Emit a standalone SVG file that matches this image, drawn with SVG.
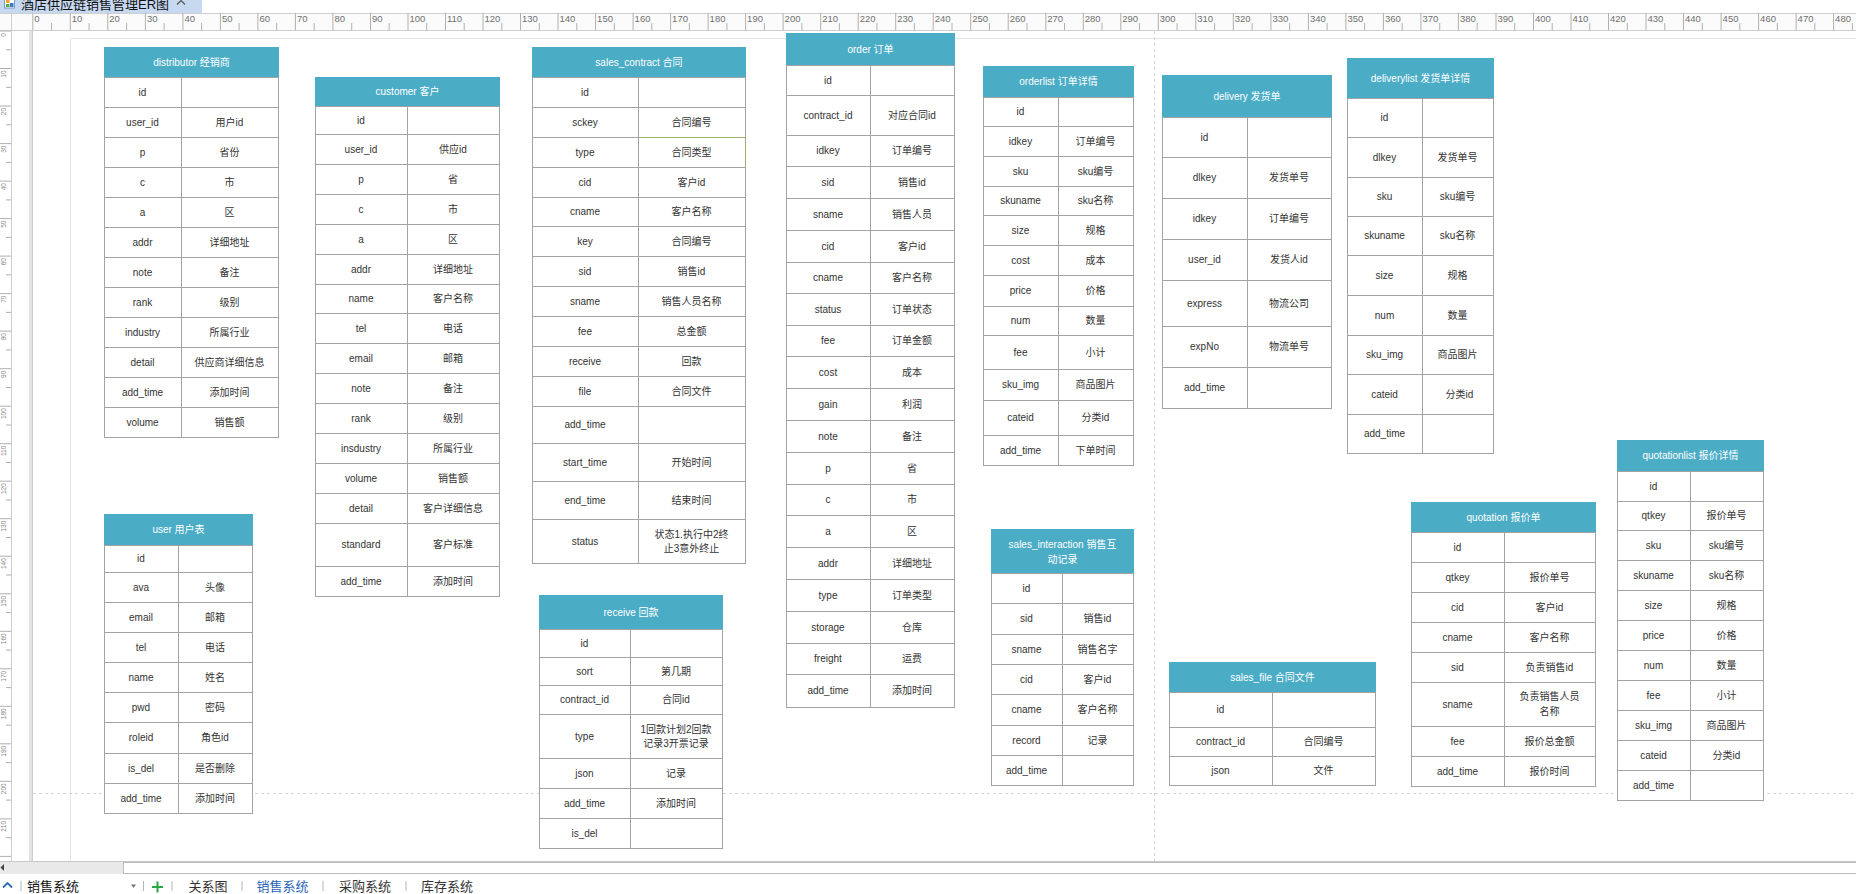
<svg xmlns="http://www.w3.org/2000/svg" width="1856" height="894" viewBox="0 0 1856 894">
<style>
text{font-family:"Liberation Sans","Noto Sans CJK SC",sans-serif}
.t{font-size:10px;fill:#333;text-anchor:middle}
.ht{font-size:10px;fill:#fff;text-anchor:middle}
.hd{fill:#4bacc6}
.bd{fill:#fff;stroke:#a3a3a3;stroke-width:1}
.ln{fill:none;stroke:#a3a3a3;stroke-width:1}
.rl{font-size:9.5px;fill:#707070}
.vl{font-size:6.5px;fill:#888;text-anchor:end}
.tk{fill:none;stroke:#b0b0b0;stroke-width:1}
.tab{font-size:13px;fill:#333}
.sep{stroke:#b5b5b5;stroke-width:1}
.pg{fill:none;stroke:#e4e4e4;stroke-width:1}
.dash{fill:none;stroke:#d4d4d4;stroke-width:1;stroke-dasharray:3 3}
</style>
<rect x="0" y="0" width="1856" height="894" fill="#fff"/>
<g id="chrome">
<rect x="0" y="0" width="202" height="13" fill="#c7d9f1"/>
<rect x="4.5" y="-1" width="10" height="9" fill="#fff" stroke="#7d9cc4"/>
<rect x="6" y="0" width="3.5" height="3" fill="#f0a22e"/>
<rect x="10" y="3" width="3.5" height="4" fill="#3a78c8"/>
<rect x="6" y="4" width="3.5" height="3" fill="#4caf50"/>
<text x="21" y="8.5" style="font-size:13px;fill:#111">酒店供应链销售管理ER图</text>
<polyline points="177,4.5 181,0.5 185,4.5" fill="none" stroke="#555" stroke-width="1.2"/>
<rect x="0" y="13" width="1856" height="17" fill="#fbfbfb"/>
<path d="M0 13.5H1856M0 30.5H1856" stroke="#cfcfcf"/>
<path class="tk" d="M32.8 13V30M70.3 13V30M107.8 13V30M145.4 13V30M182.9 13V30M220.4 13V30M257.9 13V30M295.4 13V30M332.9 13V30M370.5 13V30M408 13V30M445.5 13V30M483 13V30M520.5 13V30M558 13V30M595.6 13V30M633.1 13V30M670.6 13V30M708.1 13V30M745.6 13V30M783.1 13V30M820.7 13V30M858.2 13V30M895.7 13V30M933.2 13V30M970.7 13V30M1008.2 13V30M1045.8 13V30M1083.3 13V30M1120.8 13V30M1158.3 13V30M1195.8 13V30M1233.3 13V30M1270.9 13V30M1308.4 13V30M1345.9 13V30M1383.4 13V30M1420.9 13V30M1458.4 13V30M1496 13V30M1533.5 13V30M1571 13V30M1608.5 13V30M1646 13V30M1683.5 13V30M1721.1 13V30M1758.6 13V30M1796.1 13V30M1833.6 13V30"/>
<path class="tk" d="M51.6 23V30M89.1 23V30M126.6 23V30M164.1 23V30M201.6 23V30M239.1 23V30M276.7 23V30M314.2 23V30M351.7 23V30M389.2 23V30M426.7 23V30M464.2 23V30M501.8 23V30M539.3 23V30M576.8 23V30M614.3 23V30M651.8 23V30M689.3 23V30M726.9 23V30M764.4 23V30M801.9 23V30M839.4 23V30M876.9 23V30M914.4 23V30M952 23V30M989.5 23V30M1027 23V30M1064.5 23V30M1102 23V30M1139.5 23V30M1177.1 23V30M1214.6 23V30M1252.1 23V30M1289.6 23V30M1327.1 23V30M1364.6 23V30M1402.2 23V30M1439.7 23V30M1477.2 23V30M1514.7 23V30M1552.2 23V30M1589.7 23V30M1627.3 23V30M1664.8 23V30M1702.3 23V30M1739.8 23V30M1777.3 23V30M1814.8 23V30M1852.4 23V30"/>
<g class="rl">
<text x="34.3" y="22">0</text><text x="71.8" y="22">10</text><text x="109.3" y="22">20</text><text x="146.9" y="22">30</text><text x="184.4" y="22">40</text><text x="221.9" y="22">50</text><text x="259.4" y="22">60</text><text x="296.9" y="22">70</text><text x="334.4" y="22">80</text><text x="372" y="22">90</text><text x="409.5" y="22">100</text><text x="447" y="22">110</text><text x="484.5" y="22">120</text><text x="522" y="22">130</text><text x="559.5" y="22">140</text><text x="597.1" y="22">150</text><text x="634.6" y="22">160</text><text x="672.1" y="22">170</text><text x="709.6" y="22">180</text><text x="747.1" y="22">190</text><text x="784.6" y="22">200</text><text x="822.2" y="22">210</text><text x="859.7" y="22">220</text><text x="897.2" y="22">230</text><text x="934.7" y="22">240</text><text x="972.2" y="22">250</text><text x="1009.7" y="22">260</text><text x="1047.3" y="22">270</text><text x="1084.8" y="22">280</text><text x="1122.3" y="22">290</text><text x="1159.8" y="22">300</text><text x="1197.3" y="22">310</text><text x="1234.8" y="22">320</text><text x="1272.4" y="22">330</text><text x="1309.9" y="22">340</text><text x="1347.4" y="22">350</text><text x="1384.9" y="22">360</text><text x="1422.4" y="22">370</text><text x="1459.9" y="22">380</text><text x="1497.5" y="22">390</text><text x="1535" y="22">400</text><text x="1572.5" y="22">410</text><text x="1610" y="22">420</text><text x="1647.5" y="22">430</text><text x="1685" y="22">440</text><text x="1722.6" y="22">450</text><text x="1760.1" y="22">460</text><text x="1797.6" y="22">470</text><text x="1835.1" y="22">480</text>
</g>
<rect x="0" y="31" width="11.5" height="830" fill="#fff"/>
<path d="M11.5 13V861" stroke="#cfcfcf"/>
<path class="tk" d="M0 31H11M0 68.5H11M0 106H11M0 143.6H11M0 181.1H11M0 218.6H11M0 256.1H11M0 293.6H11M0 331.1H11M0 368.7H11M0 406.2H11M0 443.7H11M0 481.2H11M0 518.7H11M0 556.2H11M0 593.8H11M0 631.3H11M0 668.8H11M0 706.3H11M0 743.8H11M0 781.3H11M0 818.9H11M0 856.4H11M6 49.8H11M6 87.3H11M6 124.8H11M6 162.4H11M6 199.9H11M6 237.4H11M6 274.9H11M6 312.4H11M6 349.9H11M6 387.5H11M6 425H11M6 462.5H11M6 500H11M6 537.5H11M6 575H11M6 612.6H11M6 650.1H11M6 687.6H11M6 725.1H11M6 762.6H11M6 800.1H11M6 837.7H11"/>
<g class="vl">
<text transform="translate(6 33) rotate(-90)">0</text><text transform="translate(6 70.5) rotate(-90)">10</text><text transform="translate(6 108) rotate(-90)">20</text><text transform="translate(6 145.6) rotate(-90)">30</text><text transform="translate(6 183.1) rotate(-90)">40</text><text transform="translate(6 220.6) rotate(-90)">50</text><text transform="translate(6 258.1) rotate(-90)">60</text><text transform="translate(6 295.6) rotate(-90)">70</text><text transform="translate(6 333.1) rotate(-90)">80</text><text transform="translate(6 370.7) rotate(-90)">90</text><text transform="translate(6 408.2) rotate(-90)">100</text><text transform="translate(6 445.7) rotate(-90)">110</text><text transform="translate(6 483.2) rotate(-90)">120</text><text transform="translate(6 520.7) rotate(-90)">130</text><text transform="translate(6 558.2) rotate(-90)">140</text><text transform="translate(6 595.8) rotate(-90)">150</text><text transform="translate(6 633.3) rotate(-90)">160</text><text transform="translate(6 670.8) rotate(-90)">170</text><text transform="translate(6 708.3) rotate(-90)">180</text><text transform="translate(6 745.8) rotate(-90)">190</text><text transform="translate(6 783.3) rotate(-90)">200</text><text transform="translate(6 820.9) rotate(-90)">210</text>
</g>
<rect x="29" y="31" width="4" height="830" fill="#e3e3e3"/>
<path d="M32.5 31V861" stroke="#cdcdcd"/>
<path class="pg" d="M71 38.5H1856M70.5 38.5V861"/>
<path class="dash" d="M1154.5 31V861M33 793.5H1856"/>
<rect x="0" y="861" width="1856" height="13" fill="#e9e9e9"/>
<path d="M0 861.5H1856" stroke="#c8c8c8"/>
<rect x="123.5" y="862.5" width="1733" height="11" fill="#fff" stroke="#bdbdbd"/>
<polygon points="0.5,867.5 4,864 4,871" fill="#444"/>
<rect x="0" y="874" width="1856" height="20" fill="#fff"/>
<polyline points="3,887.5 7.5,883 12,887.5" fill="none" stroke="#2d6db5" stroke-width="1.8"/>
<path class="sep" d="M21 881V891M143.5 881V891M172 881V891M242 881V891M323 881V891M406 881V891"/>
<text class="tab" x="27" y="890.5" style="fill:#111">销售系统</text>
<polygon points="131,884.5 136,884.5 133.5,888" fill="#777"/>
<path d="M157.5 881.5V892.5M152 887H163" stroke="#2aa845" stroke-width="2"/>
<text class="tab" x="188.5" y="890.5">关系图</text>
<text class="tab" x="256.5" y="890.5" style="fill:#2a64b8">销售系统</text>
<text class="tab" x="339" y="890.5">采购系统</text>
<text class="tab" x="421" y="890.5">库存系统</text>
</g>
<g id="connectors"></g>
<g id="distributor">
<rect class="hd" x="104" y="47" width="175" height="31"/>
<text class="ht" x="191.5" y="65.5">distributor 经销商</text>
<rect class="bd" x="104.5" y="77.5" width="174" height="360"/>
<path class="ln" d="M104.5 107.5H278.5M104.5 137.5H278.5M104.5 167.5H278.5M104.5 197.5H278.5M104.5 227.5H278.5M104.5 257.5H278.5M104.5 287.5H278.5M104.5 317.5H278.5M104.5 347.5H278.5M104.5 377.5H278.5M104.5 407.5H278.5M181.5 77.5V437.5"/>
<g class="t">
<text x="142.5" y="95.5">id</text>
<text x="142.5" y="125.5">user_id</text><text x="229.5" y="125.5">用户id</text>
<text x="142.5" y="155.5">p</text><text x="229.5" y="155.5">省份</text>
<text x="142.5" y="185.5">c</text><text x="229.5" y="185.5">市</text>
<text x="142.5" y="215.5">a</text><text x="229.5" y="215.5">区</text>
<text x="142.5" y="245.5">addr</text><text x="229.5" y="245.5">详细地址</text>
<text x="142.5" y="275.5">note</text><text x="229.5" y="275.5">备注</text>
<text x="142.5" y="305.5">rank</text><text x="229.5" y="305.5">级别</text>
<text x="142.5" y="335.5">industry</text><text x="229.5" y="335.5">所属行业</text>
<text x="142.5" y="365.5">detail</text><text x="229.5" y="365.5">供应商详细信息</text>
<text x="142.5" y="395.5">add_time</text><text x="229.5" y="395.5">添加时间</text>
<text x="142.5" y="425.5">volume</text><text x="229.5" y="425.5">销售额</text>
</g>
</g>
<g id="customer">
<rect class="hd" x="315" y="77" width="185" height="30"/>
<text class="ht" x="407.5" y="95">customer 客户</text>
<rect class="bd" x="315.5" y="106.5" width="184" height="490"/>
<path class="ln" d="M315.5 134.5H499.5M315.5 164.5H499.5M315.5 194.5H499.5M315.5 224.5H499.5M315.5 254.5H499.5M315.5 284.5H499.5M315.5 313.5H499.5M315.5 343.5H499.5M315.5 373.5H499.5M315.5 403.5H499.5M315.5 433.5H499.5M315.5 463.5H499.5M315.5 493.5H499.5M315.5 523.5H499.5M315.5 566.5H499.5M407.5 106.5V596.5"/>
<g class="t">
<text x="361" y="123.5">id</text>
<text x="361" y="152.5">user_id</text><text x="453" y="152.5">供应id</text>
<text x="361" y="182.5">p</text><text x="453" y="182.5">省</text>
<text x="361" y="212.5">c</text><text x="453" y="212.5">市</text>
<text x="361" y="242.5">a</text><text x="453" y="242.5">区</text>
<text x="361" y="272.5">addr</text><text x="453" y="272.5">详细地址</text>
<text x="361" y="302">name</text><text x="453" y="302">客户名称</text>
<text x="361" y="331.5">tel</text><text x="453" y="331.5">电话</text>
<text x="361" y="361.5">email</text><text x="453" y="361.5">邮箱</text>
<text x="361" y="391.5">note</text><text x="453" y="391.5">备注</text>
<text x="361" y="421.5">rank</text><text x="453" y="421.5">级别</text>
<text x="361" y="451.5">insdustry</text><text x="453" y="451.5">所属行业</text>
<text x="361" y="481.5">volume</text><text x="453" y="481.5">销售额</text>
<text x="361" y="511.5">detail</text><text x="453" y="511.5">客户详细信息</text>
<text x="361" y="548">standard</text><text x="453" y="548">客户标准</text>
<text x="361" y="584.5">add_time</text><text x="453" y="584.5">添加时间</text>
</g>
</g>
<g id="sales_contract">
<rect class="hd" x="532" y="47" width="214" height="31"/>
<text class="ht" x="639" y="65.5">sales_contract 合同</text>
<rect class="bd" x="532.5" y="77.5" width="213" height="486"/>
<path class="ln" d="M532.5 107.5H745.5M532.5 137.5H745.5M532.5 167.5H745.5M532.5 197.5H745.5M532.5 226.5H745.5M532.5 256.5H745.5M532.5 286.5H745.5M532.5 316.5H745.5M532.5 346.5H745.5M532.5 376.5H745.5M532.5 406.5H745.5M532.5 443.5H745.5M532.5 481.5H745.5M532.5 519.5H745.5M638.5 77.5V563.5"/>
<path d="M638.5 137.5H745.5V167.5" fill="none" stroke="#9eae72"/>
<g class="t">
<text x="585" y="95.5">id</text>
<text x="585" y="125.5">sckey</text><text x="691.5" y="125.5">合同编号</text>
<text x="585" y="155.5">type</text><text x="691.5" y="155.5">合同类型</text>
<text x="585" y="185.5">cid</text><text x="691.5" y="185.5">客户id</text>
<text x="585" y="215">cname</text><text x="691.5" y="215">客户名称</text>
<text x="585" y="244.5">key</text><text x="691.5" y="244.5">合同编号</text>
<text x="585" y="274.5">sid</text><text x="691.5" y="274.5">销售id</text>
<text x="585" y="304.5">sname</text><text x="691.5" y="304.5">销售人员名称</text>
<text x="585" y="334.5">fee</text><text x="691.5" y="334.5">总金额</text>
<text x="585" y="364.5">receive</text><text x="691.5" y="364.5">回款</text>
<text x="585" y="394.5">file</text><text x="691.5" y="394.5">合同文件</text>
<text x="585" y="428">add_time</text>
<text x="585" y="465.5">start_time</text><text x="691.5" y="465.5">开始时间</text>
<text x="585" y="503.5">end_time</text><text x="691.5" y="503.5">结束时间</text>
<text x="585" y="544.5">status</text><text x="691.5" y="537.5">状态1.执行中2终</text><text x="691.5" y="551.5">止3意外终止</text>
</g>
</g>
<g id="order">
<rect class="hd" x="786" y="33" width="169" height="33"/>
<text class="ht" x="870.5" y="52.5">order 订单</text>
<rect class="bd" x="786.5" y="65.5" width="168" height="642"/>
<path class="ln" d="M786.5 95.5H954.5M786.5 135.5H954.5M786.5 166.5H954.5M786.5 198.5H954.5M786.5 230.5H954.5M786.5 262.5H954.5M786.5 293.5H954.5M786.5 325.5H954.5M786.5 356.5H954.5M786.5 388.5H954.5M786.5 420.5H954.5M786.5 452.5H954.5M786.5 484.5H954.5M786.5 515.5H954.5M786.5 547.5H954.5M786.5 579.5H954.5M786.5 611.5H954.5M786.5 643.5H954.5M786.5 674.5H954.5M870.5 65.5V707.5"/>
<g class="t">
<text x="828" y="83.5">id</text>
<text x="828" y="118.5">contract_id</text><text x="912" y="118.5">对应合同id</text>
<text x="828" y="154">idkey</text><text x="912" y="154">订单编号</text>
<text x="828" y="185.5">sid</text><text x="912" y="185.5">销售id</text>
<text x="828" y="217.5">sname</text><text x="912" y="217.5">销售人员</text>
<text x="828" y="249.5">cid</text><text x="912" y="249.5">客户id</text>
<text x="828" y="281">cname</text><text x="912" y="281">客户名称</text>
<text x="828" y="312.5">status</text><text x="912" y="312.5">订单状态</text>
<text x="828" y="344">fee</text><text x="912" y="344">订单金额</text>
<text x="828" y="375.5">cost</text><text x="912" y="375.5">成本</text>
<text x="828" y="407.5">gain</text><text x="912" y="407.5">利润</text>
<text x="828" y="439.5">note</text><text x="912" y="439.5">备注</text>
<text x="828" y="471.5">p</text><text x="912" y="471.5">省</text>
<text x="828" y="503">c</text><text x="912" y="503">市</text>
<text x="828" y="534.5">a</text><text x="912" y="534.5">区</text>
<text x="828" y="566.5">addr</text><text x="912" y="566.5">详细地址</text>
<text x="828" y="598.5">type</text><text x="912" y="598.5">订单类型</text>
<text x="828" y="630.5">storage</text><text x="912" y="630.5">仓库</text>
<text x="828" y="662">freight</text><text x="912" y="662">运费</text>
<text x="828" y="694">add_time</text><text x="912" y="694">添加时间</text>
</g>
</g>
<g id="orderlist">
<rect class="hd" x="983" y="66" width="151" height="32"/>
<text class="ht" x="1058.5" y="85">orderlist 订单详情</text>
<rect class="bd" x="983.5" y="97.5" width="150" height="368"/>
<path class="ln" d="M983.5 126.5H1133.5M983.5 156.5H1133.5M983.5 186.5H1133.5M983.5 215.5H1133.5M983.5 245.5H1133.5M983.5 275.5H1133.5M983.5 306.5H1133.5M983.5 335.5H1133.5M983.5 369.5H1133.5M983.5 400.5H1133.5M983.5 435.5H1133.5M1058.5 97.5V465.5"/>
<g class="t">
<text x="1020.5" y="115">id</text>
<text x="1020.5" y="144.5">idkey</text><text x="1095.5" y="144.5">订单编号</text>
<text x="1020.5" y="174.5">sku</text><text x="1095.5" y="174.5">sku编号</text>
<text x="1020.5" y="204">skuname</text><text x="1095.5" y="204">sku名称</text>
<text x="1020.5" y="233.5">size</text><text x="1095.5" y="233.5">规格</text>
<text x="1020.5" y="263.5">cost</text><text x="1095.5" y="263.5">成本</text>
<text x="1020.5" y="294">price</text><text x="1095.5" y="294">价格</text>
<text x="1020.5" y="324">num</text><text x="1095.5" y="324">数量</text>
<text x="1020.5" y="355.5">fee</text><text x="1095.5" y="355.5">小计</text>
<text x="1020.5" y="388">sku_img</text><text x="1095.5" y="388">商品图片</text>
<text x="1020.5" y="421">cateid</text><text x="1095.5" y="421">分类id</text>
<text x="1020.5" y="453.5">add_time</text><text x="1095.5" y="453.5">下单时间</text>
</g>
</g>
<g id="delivery">
<rect class="hd" x="1162" y="75" width="170" height="43"/>
<text class="ht" x="1247" y="99.5">delivery 发货单</text>
<rect class="bd" x="1162.5" y="117.5" width="169" height="291"/>
<path class="ln" d="M1162.5 157.5H1331.5M1162.5 198.5H1331.5M1162.5 239.5H1331.5M1162.5 280.5H1331.5M1162.5 326.5H1331.5M1162.5 367.5H1331.5M1247.5 117.5V408.5"/>
<g class="t">
<text x="1204.5" y="140.5">id</text>
<text x="1204.5" y="181">dlkey</text><text x="1289" y="181">发货单号</text>
<text x="1204.5" y="222">idkey</text><text x="1289" y="222">订单编号</text>
<text x="1204.5" y="263">user_id</text><text x="1289" y="263">发货人id</text>
<text x="1204.5" y="306.5">express</text><text x="1289" y="306.5">物流公司</text>
<text x="1204.5" y="350">expNo</text><text x="1289" y="350">物流单号</text>
<text x="1204.5" y="391">add_time</text>
</g>
</g>
<g id="deliverylist">
<rect class="hd" x="1347" y="58" width="147" height="41"/>
<text class="ht" x="1420.5" y="81.5">deliverylist 发货单详情</text>
<rect class="bd" x="1347.5" y="98.5" width="146" height="355"/>
<path class="ln" d="M1347.5 137.5H1493.5M1347.5 177.5H1493.5M1347.5 216.5H1493.5M1347.5 255.5H1493.5M1347.5 295.5H1493.5M1347.5 335.5H1493.5M1347.5 374.5H1493.5M1347.5 414.5H1493.5M1422.5 98.5V453.5"/>
<g class="t">
<text x="1384.5" y="121">id</text>
<text x="1384.5" y="160.5">dlkey</text><text x="1457.5" y="160.5">发货单号</text>
<text x="1384.5" y="200">sku</text><text x="1457.5" y="200">sku编号</text>
<text x="1384.5" y="239">skuname</text><text x="1457.5" y="239">sku名称</text>
<text x="1384.5" y="278.5">size</text><text x="1457.5" y="278.5">规格</text>
<text x="1384.5" y="318.5">num</text><text x="1457.5" y="318.5">数量</text>
<text x="1384.5" y="358">sku_img</text><text x="1457.5" y="358">商品图片</text>
<text x="1384.5" y="397.5">cateid</text><text x="1459.5" y="397.5">分类id</text>
<text x="1384.5" y="437">add_time</text>
</g>
</g>
<g id="user">
<rect class="hd" x="104" y="514" width="149" height="32"/>
<text class="ht" x="178.5" y="533">user 用户表</text>
<rect class="bd" x="104.5" y="545.5" width="148" height="268"/>
<path class="ln" d="M104.5 572.5H252.5M104.5 602.5H252.5M104.5 632.5H252.5M104.5 662.5H252.5M104.5 692.5H252.5M104.5 722.5H252.5M104.5 753.5H252.5M104.5 783.5H252.5M178.5 545.5V813.5"/>
<g class="t">
<text x="141" y="562">id</text>
<text x="141" y="590.5">ava</text><text x="215" y="590.5">头像</text>
<text x="141" y="620.5">email</text><text x="215" y="620.5">邮箱</text>
<text x="141" y="650.5">tel</text><text x="215" y="650.5">电话</text>
<text x="141" y="680.5">name</text><text x="215" y="680.5">姓名</text>
<text x="141" y="710.5">pwd</text><text x="215" y="710.5">密码</text>
<text x="141" y="741">roleid</text><text x="215" y="741">角色id</text>
<text x="141" y="771.5">is_del</text><text x="215" y="771.5">是否删除</text>
<text x="141" y="801.5">add_time</text><text x="215" y="801.5">添加时间</text>
</g>
</g>
<g id="receive">
<rect class="hd" x="539" y="595" width="184" height="35"/>
<text class="ht" x="631" y="615.5">receive 回款</text>
<rect class="bd" x="539.5" y="629.5" width="183" height="219"/>
<path class="ln" d="M539.5 657.5H722.5M539.5 685.5H722.5M539.5 714.5H722.5M539.5 758.5H722.5M539.5 788.5H722.5M539.5 818.5H722.5M630.5 629.5V848.5"/>
<g class="t">
<text x="584.5" y="646.5">id</text>
<text x="584.5" y="674.5">sort</text><text x="676" y="674.5">第几期</text>
<text x="584.5" y="703">contract_id</text><text x="676" y="703">合同id</text>
<text x="584.5" y="739.5">type</text><text x="676" y="732.5">1回款计划2回款</text><text x="676" y="746.5">记录3开票记录</text>
<text x="584.5" y="776.5">json</text><text x="676" y="776.5">记录</text>
<text x="584.5" y="806.5">add_time</text><text x="676" y="806.5">添加时间</text>
<text x="584.5" y="836.5">is_del</text>
</g>
</g>
<g id="sales_interaction">
<rect class="hd" x="991" y="529" width="143" height="45"/>
<text class="ht" x="1062.5" y="547.5">sales_interaction 销售互</text>
<text class="ht" x="1062.5" y="562.5">动记录</text>
<rect class="bd" x="991.5" y="573.5" width="142" height="212"/>
<path class="ln" d="M991.5 603.5H1133.5M991.5 634.5H1133.5M991.5 664.5H1133.5M991.5 694.5H1133.5M991.5 725.5H1133.5M991.5 755.5H1133.5M1062.5 573.5V785.5"/>
<g class="t">
<text x="1026.5" y="591.5">id</text>
<text x="1026.5" y="622">sid</text><text x="1097.5" y="622">销售id</text>
<text x="1026.5" y="652.5">sname</text><text x="1097.5" y="652.5">销售名字</text>
<text x="1026.5" y="682.5">cid</text><text x="1097.5" y="682.5">客户id</text>
<text x="1026.5" y="713">cname</text><text x="1097.5" y="713">客户名称</text>
<text x="1026.5" y="743.5">record</text><text x="1097.5" y="743.5">记录</text>
<text x="1026.5" y="773.5">add_time</text>
</g>
</g>
<g id="sales_file">
<rect class="hd" x="1169" y="662" width="207" height="31"/>
<text class="ht" x="1272.5" y="680.5">sales_file 合同文件</text>
<rect class="bd" x="1169.5" y="692.5" width="206" height="93"/>
<path class="ln" d="M1169.5 727.5H1375.5M1169.5 756.5H1375.5M1272.5 692.5V785.5"/>
<g class="t">
<text x="1220.5" y="713">id</text>
<text x="1220.5" y="745">contract_id</text><text x="1323.5" y="745">合同编号</text>
<text x="1220.5" y="774">json</text><text x="1323.5" y="774">文件</text>
</g>
</g>
<g id="quotation">
<rect class="hd" x="1411" y="502" width="185" height="31"/>
<text class="ht" x="1503.5" y="520.5">quotation 报价单</text>
<rect class="bd" x="1411.5" y="532.5" width="184" height="254"/>
<path class="ln" d="M1411.5 562.5H1595.5M1411.5 592.5H1595.5M1411.5 622.5H1595.5M1411.5 652.5H1595.5M1411.5 682.5H1595.5M1411.5 726.5H1595.5M1411.5 756.5H1595.5M1504.5 532.5V786.5"/>
<g class="t">
<text x="1457.5" y="550.5">id</text>
<text x="1457.5" y="580.5">qtkey</text><text x="1549.5" y="580.5">报价单号</text>
<text x="1457.5" y="610.5">cid</text><text x="1549.5" y="610.5">客户id</text>
<text x="1457.5" y="640.5">cname</text><text x="1549.5" y="640.5">客户名称</text>
<text x="1457.5" y="670.5">sid</text><text x="1549.5" y="670.5">负责销售id</text>
<text x="1457.5" y="707.5">sname</text><text x="1549.5" y="700">负责销售人员</text><text x="1549.5" y="714.5">名称</text>
<text x="1457.5" y="744.5">fee</text><text x="1549.5" y="744.5">报价总金额</text>
<text x="1457.5" y="774.5">add_time</text><text x="1549.5" y="774.5">报价时间</text>
</g>
</g>
<g id="quotationlist">
<rect class="hd" x="1617" y="440" width="147" height="32"/>
<text class="ht" x="1690.5" y="459">quotationlist 报价详情</text>
<rect class="bd" x="1617.5" y="471.5" width="146" height="329"/>
<path class="ln" d="M1617.5 501.5H1763.5M1617.5 530.5H1763.5M1617.5 560.5H1763.5M1617.5 590.5H1763.5M1617.5 620.5H1763.5M1617.5 650.5H1763.5M1617.5 680.5H1763.5M1617.5 710.5H1763.5M1617.5 740.5H1763.5M1617.5 770.5H1763.5M1690.5 471.5V800.5"/>
<g class="t">
<text x="1653.5" y="489.5">id</text>
<text x="1653.5" y="519">qtkey</text><text x="1726.5" y="519">报价单号</text>
<text x="1653.5" y="548.5">sku</text><text x="1726.5" y="548.5">sku编号</text>
<text x="1653.5" y="578.5">skuname</text><text x="1726.5" y="578.5">sku名称</text>
<text x="1653.5" y="608.5">size</text><text x="1726.5" y="608.5">规格</text>
<text x="1653.5" y="638.5">price</text><text x="1726.5" y="638.5">价格</text>
<text x="1653.5" y="668.5">num</text><text x="1726.5" y="668.5">数量</text>
<text x="1653.5" y="698.5">fee</text><text x="1726.5" y="698.5">小计</text>
<text x="1653.5" y="728.5">sku_img</text><text x="1726.5" y="728.5">商品图片</text>
<text x="1653.5" y="758.5">cateid</text><text x="1726.5" y="758.5">分类id</text>
<text x="1653.5" y="788.5">add_time</text>
</g>
</g>
</svg>
